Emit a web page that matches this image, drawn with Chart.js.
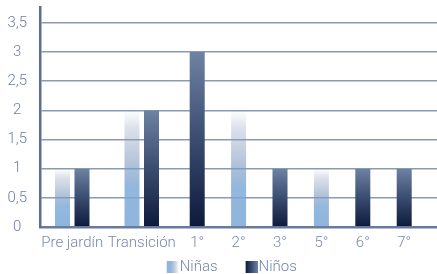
<!DOCTYPE html>
<html>
<head>
<meta charset="utf-8">
<script src="https://cdn.jsdelivr.net/npm/chart.js@4"></script>
<style>
  html, body { margin: 0; padding: 0; background: #ffffff; }
  #wrap { width: 437px; height: 274px; position: relative; }
</style>
</head>
<body>
<div id="wrap"><canvas id="c" width="437" height="274"></canvas></div>
<script>
// ---- data ----
const categories = ['Pre jardín', 'Transición', '1°', '2°', '3°', '5°', '6°', '7°'];
const ninas = [1, 2, null, 2, null, 1, null, null];
const ninos = [1, 2, 3, null, 1, null, 1, 1];
const seriesNames = ['Niñas', 'Niños'];
const yTicks = [0, 0.5, 1, 1.5, 2, 2.5, 3, 3.5];

// ---- style / layout constants ----
const FONT = 'Roboto';
const GROUP_BASE = 13.3;   // spacing per category group
const BAR_SLOT = 28.1;     // extra spacing per bar present in the group
const NINAS_STOPS = [[0, 'rgba(142,158,185,0)'], [0.15, 'rgba(142,158,185,0.3)'], [0.45, 'rgba(127,155,192,0.6)'], [0.65, 'rgba(124,167,214,0.82)'], [1, 'rgba(124,169,216,0.86)']];
const NINOS_STOPS = [[0, '#6e82a2'], [0.5, '#3a4c70'], [1, '#0c193b']];
const LEG_PSW = 26;        // legend point-style slot width

// category positions derived from how many bars each group holds
const barsIn = categories.map((_, i) => [ninas[i], ninos[i]].filter(v => v !== null).length);
const xPos = [];
let acc = 0;
barsIn.forEach((n) => { const w = GROUP_BASE + BAR_SLOT * n; xPos.push(acc + w / 2); acc += w; });

function barGradient(stops) {
  return (ctx) => {
    const chart = ctx.chart;
    if (!chart.chartArea || ctx.type !== 'data' || ctx.raw == null) return stops[stops.length - 1][1];
    const y = chart.scales.y;
    const top = y.getPixelForValue(ctx.raw);
    const bottom = y.getPixelForValue(0);
    const g = chart.ctx.createLinearGradient(0, top, 0, bottom);
    stops.forEach(([o, c]) => g.addColorStop(o, c));
    return g;
  };
}

function legendIcon(stops) {
  const d = LEG_PSW / 2 + 0.5;
  const cv = document.createElement('canvas');
  cv.width = 12 + 2 * d; cv.height = 12;
  const c = cv.getContext('2d');
  const x0 = 2 * d;
  const g = c.createLinearGradient(x0 + 12, 0, x0, 0);
  stops.forEach(([o, col]) => g.addColorStop(o, col));
  c.fillStyle = g;
  c.fillRect(x0, 0, 12, 12);
  return cv;
}
const icons = [legendIcon(NINAS_STOPS), legendIcon(NINOS_STOPS)];

const barCommon = {
  barThickness: 19.5,
  borderWidth: { left: 2.25, right: 2.25, top: 0, bottom: 0 },
  borderColor: 'rgba(0,0,0,0)',
  borderSkipped: false,
  inflateAmount: 0,
  skipNull: true
};

new Chart(document.getElementById('c'), {
  type: 'bar',
  data: {
    labels: xPos,
    datasets: [
      Object.assign({ label: seriesNames[0], data: ninas, backgroundColor: barGradient(NINAS_STOPS) }, barCommon),
      Object.assign({ label: seriesNames[1], data: ninos, backgroundColor: barGradient(NINOS_STOPS) }, barCommon)
    ]
  },
  options: {
    responsive: false,
    animation: false,
    layout: { padding: { top: 7, left: 6, right: 0, bottom: 0 } },
    plugins: {
      tooltip: { enabled: false },
      legend: {
        position: 'bottom',
        maxHeight: 22,
        labels: {
          padding: 7.5,
          usePointStyle: true,
          pointStyleWidth: LEG_PSW,
          font: { family: FONT, size: 15, weight: 300 },
          color: '#7485a7',
          generateLabels: () => seriesNames.map((n, i) => ({
            text: n, pointStyle: icons[i], fillStyle: 'transparent', strokeStyle: 'transparent',
            lineWidth: 0, datasetIndex: i, hidden: false, fontColor: '#7485a7'
          }))
        }
      }
    },
    scales: {
      x: {
        type: 'linear',
        min: 2.5,
        max: 399.5,
        offset: false,
        grid: { display: false, drawTicks: false },
        border: { display: true, color: '#687b9c', width: 2.5 },
        afterBuildTicks: (s) => { s.ticks = xPos.map(v => ({ value: v })); },
        afterFit: (s) => { s.height = 25; s.paddingLeft = 0; s.paddingRight = 0; },
        ticks: {
          autoSkip: false,
          maxRotation: 0,
          minRotation: 0,
          padding: 7,
          color: '#7889ac',
          font: { family: FONT, size: 15, weight: 300 },
          callback: (v, i) => categories[i]
        }
      },
      y: {
        min: 0,
        max: 3.77,
        afterBuildTicks: (s) => { s.ticks = yTicks.map(v => ({ value: v })); },
        afterFit: (s) => { s.width = 34; s.paddingTop = 0; s.paddingBottom = 0; },
        grid: { color: '#8a9ab5', lineWidth: 1.5, drawTicks: false },
        border: { display: true, color: '#5c6f91', width: 2.5 },
        ticks: {
          padding: 13,
          crossAlign: 'center',
          color: '#6d7ea2',
          font: { family: FONT, size: 15, weight: 300 },
          callback: (v) => String(v).replace('.', ',')
        }
      }
    }
  }
});
</script>
</body>
</html>
